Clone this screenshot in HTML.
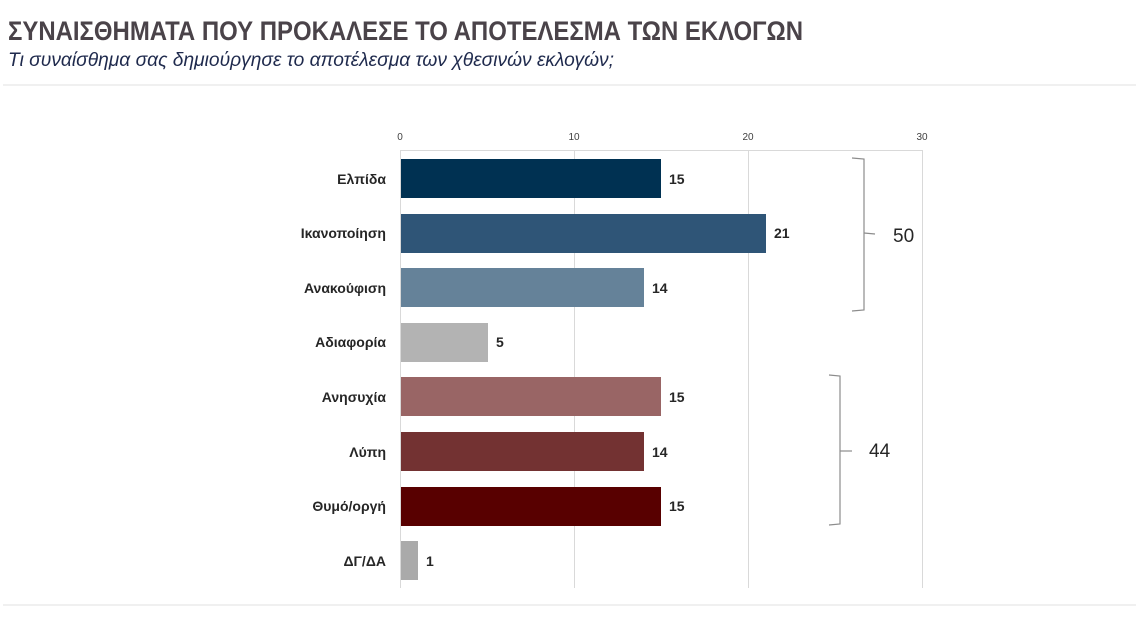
<!DOCTYPE html>
<html><head><meta charset="utf-8"><style>
body{margin:0;background:#fff;width:1136px;height:618px;overflow:hidden}
</style></head><body>
<svg width="1136" height="618" xmlns="http://www.w3.org/2000/svg" font-family="Liberation Sans, Arial, sans-serif">
<text x="8" y="40" font-size="27" font-weight="bold" fill="#4a4349" textLength="795" lengthAdjust="spacingAndGlyphs">ΣΥΝΑΙΣΘΗΜΑΤΑ ΠΟΥ ΠΡΟΚΑΛΕΣΕ ΤΟ ΑΠΟΤΕΛΕΣΜΑ ΤΩΝ ΕΚΛΟΓΩΝ</text>
<text x="8" y="66" font-size="19" font-style="italic" fill="#1f2a4d" textLength="606" lengthAdjust="spacingAndGlyphs">Τι συναίσθημα σας δημιούργησε το αποτέλεσμα των χθεσινών εκλογών;</text>
<rect x="3" y="84" width="1133" height="2" fill="#f0f0f0"/>
<rect x="3" y="604" width="1133" height="2" fill="#f0f0f0"/>
<g stroke="#d9d9d9" stroke-width="1">
<line x1="400.5" y1="150" x2="400.5" y2="588"/>
<line x1="574.5" y1="150" x2="574.5" y2="588"/>
<line x1="748.5" y1="150" x2="748.5" y2="588"/>
<line x1="922.5" y1="150" x2="922.5" y2="588"/>
<line x1="400" y1="150.5" x2="922" y2="150.5"/>
</g>
<g font-size="10" fill="#404040" text-anchor="middle">
<text x="400" y="140">0</text><text x="574" y="140">10</text><text x="748" y="140">20</text><text x="922" y="140">30</text>
</g>
<g font-size="14" font-weight="bold" fill="#262626">
<rect x="401" y="159" width="260" height="39" fill="#003152"/>
<rect x="401" y="214" width="365" height="39" fill="#2f5577"/>
<rect x="401" y="268" width="243" height="39" fill="#658299"/>
<rect x="401" y="323" width="87" height="39" fill="#b3b3b3"/>
<rect x="401" y="377" width="260" height="39" fill="#996565"/>
<rect x="401" y="432" width="243" height="39" fill="#733232"/>
<rect x="401" y="487" width="260" height="39" fill="#580000"/>
<rect x="401" y="541" width="17" height="39" fill="#aaaaaa"/>
<g text-anchor="end">
<text x="386" y="184">Ελπίδα</text>
<text x="386" y="238">Ικανοποίηση</text>
<text x="386" y="293">Ανακούφιση</text>
<text x="386" y="347">Αδιαφορία</text>
<text x="386" y="402">Ανησυχία</text>
<text x="386" y="457">Λύπη</text>
<text x="386" y="511">Θυμό/οργή</text>
<text x="386" y="566">ΔΓ/ΔΑ</text>
</g>
<text x="669" y="184">15</text>
<text x="774" y="238">21</text>
<text x="652" y="293">14</text>
<text x="496" y="347">5</text>
<text x="669" y="402">15</text>
<text x="652" y="457">14</text>
<text x="669" y="511">15</text>
<text x="426" y="566">1</text>
</g>
<g fill="none" stroke="#8c8c8c" stroke-width="1.2">
<path d="M852 158 L864 159 L864 310 L852 311"/>
<path d="M864 233 L875 234"/>
<path d="M829 375 L840 376 L840 524 L829 525"/>
<path d="M840 451 L852 451"/>
</g>
<g font-size="19" fill="#262626">
<text x="893" y="242">50</text>
<text x="869" y="457">44</text>
</g>
</svg>
</body></html>
